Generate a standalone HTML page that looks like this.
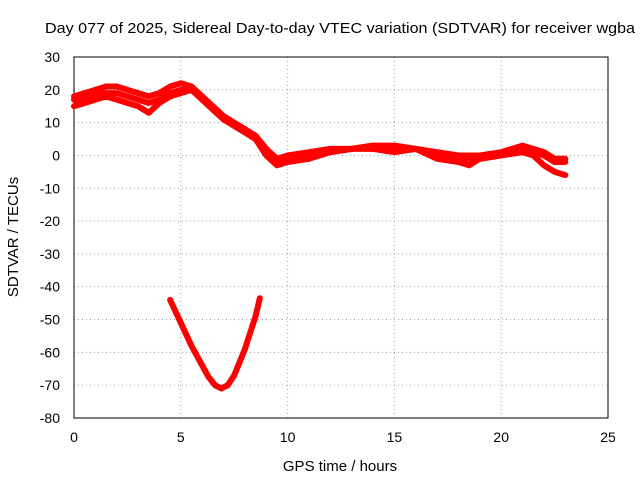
<!DOCTYPE html>
<html><head><meta charset="utf-8"><style>
body{margin:0;background:#fff}
svg{display:block;font-family:"Liberation Sans",sans-serif}
</style></head><body>
<svg id="c" width="640" height="480"></svg>
<script>
const xTicks=[0,5,10,15,20,25];
const yTicks=[30,20,10,0,-10,-20,-30,-40,-50,-60,-70,-80];
const tA=[0,0.5,1,1.5,2,2.5,3,3.5,4,4.5,5,5.5,6,6.5,7,7.5,8,8.5,9,9.5,10,11,12,13,14,15,16,17,18,19,20,21,21.5,22,22.5,23];
const vA=[18,19,20,21,21,20,19,18,19,21,22,21,18,15,12,10,8,6,2,-1,0,1,2,2,3,3,2,1,0,0,1,3,2,1,-1,-1];
const tB=[0,0.5,1,1.5,2,2.5,3,3.5,4,4.5,5,5.5,6,6.5,7,7.5,8,8.5,9,9.5,10,11,12,13,14,15,16,17,18,18.5,19,20,21,21.5,22,22.5,23];
const vB=[15,16,17,18,17,16,15,13,16,18,19,20,17,14,11,9,7,5,0,-3,-2,-1,1,2,2,1,2,-1,-2,-3,-1,0,1,0,-3,-5,-6];
const tC=[0,0.5,1,1.5,2,2.5,3,3.5,4,4.5,5,5.5,6,6.5,7,7.5,8,8.5,9,9.5,10,11,12,13,14,15,16,17,18,19,20,21,21.5,22,22.5,23];
const vC=[17,17,19,19,19,18,17,16,17,19,20,20,18,14,11,9,8,5,1,-2,-1,0,1,2,3,2,2,0,-1,-1,0,2,1,0,-2,-2];
const tP=[4.5,5,5.5,6,6.3,6.6,6.9,7.2,7.5,8,8.5,8.7];
const vP=[-44,-51,-58,-64,-67.5,-70,-71,-70,-67,-59,-49,-43.5];
const X0=74,X1=608,Y0=57,Y1=418;
const sx=v=>X0+(v-0)/25*(X1-X0);
const sy=v=>Y0+(30-v)/110*(Y1-Y0);
const svg=document.getElementById('c');
const NS='http://www.w3.org/2000/svg';
function mk(tag,at,txt){const e=document.createElementNS(NS,tag);for(const k in at)e.setAttribute(k,at[k]);if(txt!==undefined)e.textContent=txt;svg.appendChild(e);return e;}
xTicks.forEach(t=>{
 const g=mk('line',{x1:sx(t),x2:sx(t),y1:Y0,y2:Y1,stroke:'#a0a0a0','stroke-dasharray':'1,3'});
 
 
 const l=mk('text',{x:sx(t),y:Y1+24,'text-anchor':'middle','font-size':14},t);
 
 
});
yTicks.forEach(v=>{
 const g=mk('line',{x1:X0,x2:X1,y1:sy(v),y2:sy(v),stroke:'#a0a0a0','stroke-dasharray':'1,3'});
 
 
 const l=mk('text',{x:60,y:sy(v)+5,'text-anchor':'end','font-size':14},v);
 
 
});
const fr=mk('rect',{x:X0,y:Y0,width:X1-X0,height:Y1-Y0,fill:'none',stroke:'#000'});


function series(ts,vs,name){
 const p=mk('polyline',{points:ts.map((t,i)=>sx(t)+','+sy(vs[i])).join(' '),fill:'none',stroke:'#f00','stroke-width':6,'stroke-linejoin':'round','stroke-linecap':'round'});
 
 
}
series(tA,vA,'series-upper');
series(tB,vB,'series-lower');
series(tC,vC,'series-middle');
series(tP,vP,'series-parabola');
const ti=mk('text',{x:45,y:33,'text-anchor':'start','font-size':15,textLength:590,lengthAdjust:'spacingAndGlyphs'},'Day 077 of 2025, Sidereal Day-to-day VTEC variation (SDTVAR) for receiver wgba');


const xt=mk('text',{x:340,y:471,'text-anchor':'middle','font-size':15},'GPS time / hours');


const yt=mk('text',{x:18,y:237,'text-anchor':'middle','font-size':15,transform:'rotate(-90 18 237)'},'SDTVAR / TECUs');


</script>
</body></html>
